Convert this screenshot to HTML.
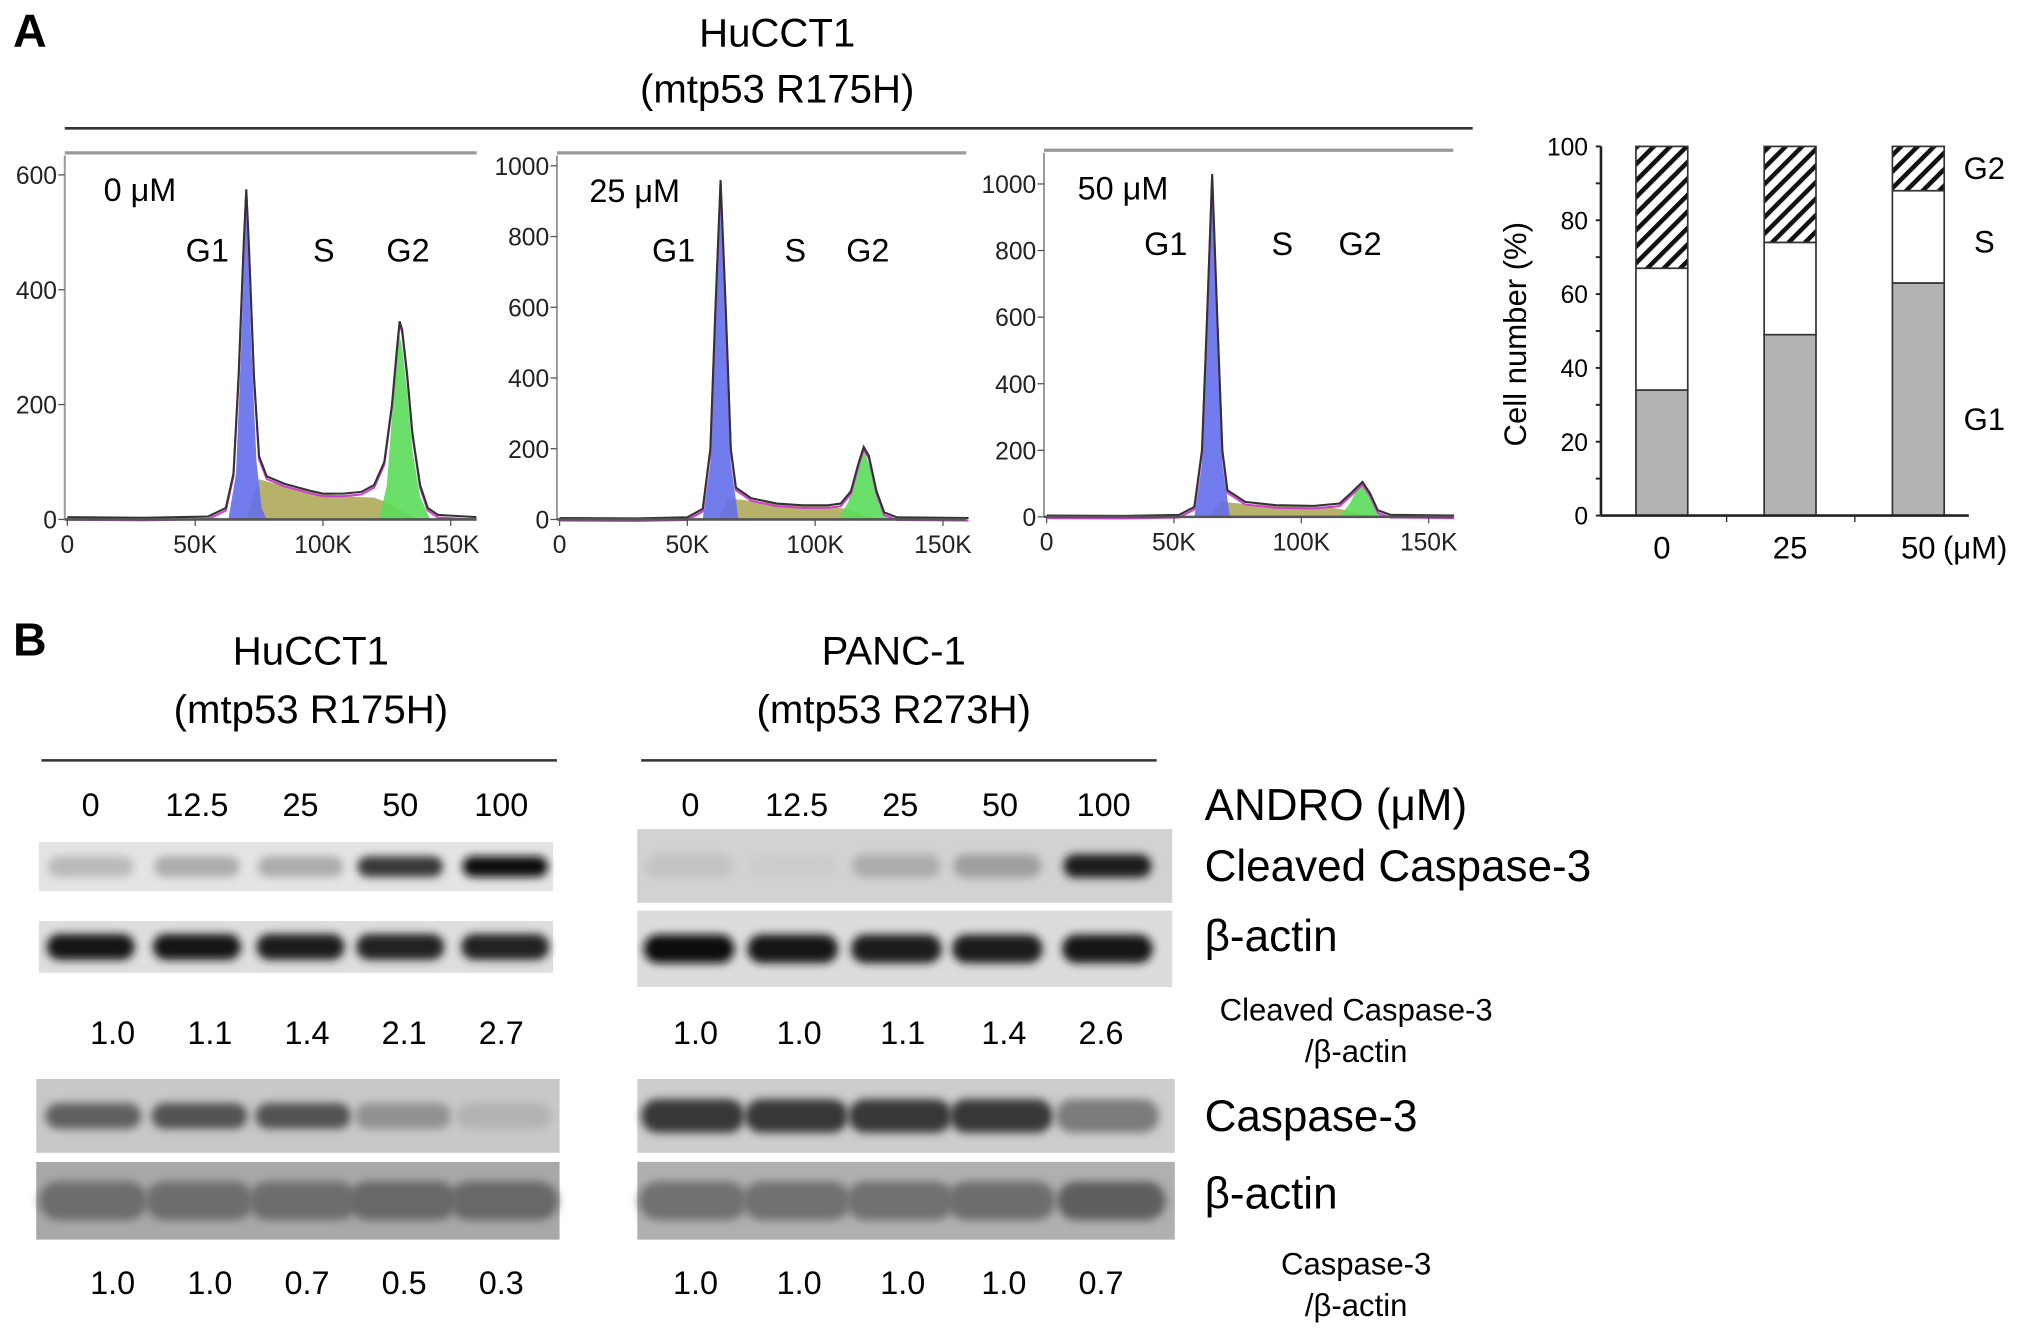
<!DOCTYPE html>
<html><head><meta charset="utf-8"><style>
html,body{margin:0;padding:0;background:#fff}
svg{display:block;font-family:"Liberation Sans",Arial,sans-serif}
</style></head><body>
<svg id="fig" width="2031" height="1335" viewBox="0 0 1568 1030.6" xmlns="http://www.w3.org/2000/svg">
<defs>
<filter id="blur" x="-30%" y="-80%" width="160%" height="260%"><feGaussianBlur stdDeviation="3.2"/></filter>
<pattern id="hatch" patternUnits="userSpaceOnUse" width="9" height="9" patternTransform="rotate(45)">
<rect width="9" height="9" fill="#fff"/><rect width="3.5" height="9" fill="#111"/></pattern>
</defs>
<text x="10" y="36" font-size="36" font-weight="bold">A</text>
<text x="10" y="506" font-size="36" font-weight="bold">B</text>
<text x="600" y="36" font-size="31" text-anchor="middle">HuCCT1</text>
<text x="600" y="79" font-size="31" text-anchor="middle">(mtp53 R175H)</text>
<line x1="50" y1="99" x2="1137" y2="99" stroke="#333" stroke-width="2"/>
<g id="hist"></g>
<g id="bars"></g>
<g id="blots"></g>
</svg>
<script>
const NS="http://www.w3.org/2000/svg";
function mk(tag,attrs,parent,txt){const e=document.createElementNS(NS,tag);for(const k in attrs)e.setAttribute(k,attrs[k]);if(txt!==undefined)e.textContent=txt;parent.appendChild(e);return e;}

// ---------- Histogram data (x in K, counts) ----------
const histLabels=["0 μM","25 μM","50 μM"];
const histYTicks=[[0,200,400,600],[0,200,400,600,800,1000],[0,200,400,600,800,1000]];
const histXTicks=[0,50,100,150];
const total0=[[0,4],[30,3],[55,5],[62,20],[65,80],[67,250],[69,480],[70,575],[71,480],[73,250],[75,110],[78,75],[85,62],[95,50],[100,45],[108,45],[115,48],[120,60],[124,100],[127,200],[129,300],[130,345],[131,330],[133,250],[135,150],[138,60],[141,20],[145,8],[160,4]];
const g1_0=[[63,0],[66,80],[68,300],[70,560],[72,300],[74,100],[76,20],[78,0]];
const s_0=[[70,0],[75,70],[80,64],[90,54],[100,45],[110,40],[120,38],[125,30],[132,12],[138,0]];
const g2_0=[[122,0],[125,60],[127,180],[129,290],[130,320],[131,300],[133,220],[135,120],[138,40],[142,0]];
const total25=[[0,4],[30,3],[50,6],[56,30],[59,200],[61,600],[63,960],[65,600],[67,200],[69,90],[75,60],[85,45],[95,40],[105,40],[110,45],[114,80],[117,160],[119,205],[121,180],[124,80],[127,20],[132,6],[160,4]];
const g1_25=[[56,0],[59,160],[61,560],[63,940],[65,560],[67,160],[70,0]];
const s_25=[[62,0],[66,60],[75,52],[90,42],[105,38],[112,30],[120,10],[126,0]];
const g2_25=[[109,0],[113,50],[116,140],[119,195],[122,140],[125,40],[129,0]];
const total50=[[0,4],[30,3],[52,6],[58,30],[61,200],[63,600],[65,1030],[67,600],[69,200],[71,80],[78,45],[90,35],[105,33],[115,40],[120,75],[124,105],[127,70],[130,20],[135,6],[160,4]];
const g1_50=[[58,0],[61,160],[63,560],[65,1010],[67,560],[69,160],[72,0]];
const s_50=[[64,0],[68,45],[80,38],[95,32],[110,30],[118,20],[125,5],[130,0]];
const g2_50=[[115,0],[119,40],[122,85],[124,98],[126,80],[129,25],[132,0]];
const histTotals=[total0,total25,total50];
const histG1=[g1_0,g1_25,g1_50];
const histS=[s_0,s_25,s_50];
const histG2=[g2_0,g2_25,g2_50];
const histYMax=[600,1000,1000];

const hp=[
 {x0:52,x150:348,y0:401,yTop:135,ax:50,fx1:50,fx2:368,ft:118,lbx:80,lby:155,g1x:160,sx:250,g2x:315,py:202},
 {x0:432,x150:728,y0:401,yTop:128,ax:430,fx1:430,fx2:746,ft:118,lbx:455,lby:156,g1x:520,sx:614,g2x:670,py:202},
 {x0:808,x150:1103,y0:399,yTop:142,ax:806,fx1:806,fx2:1122,ft:116,lbx:832,lby:154,g1x:900,sx:990,g2x:1050,py:197}];
const H=document.getElementById('hist');
hp.forEach((p,i)=>{
 const g=mk('g',{},H);
 
 
 const X=v=>p.x0+(p.x150-p.x0)*v/150;
 const Y=v=>p.y0-(p.y0-p.yTop)*v/histYMax[i];
 const fr=mk('line',{x1:p.fx1,y1:p.ft,x2:p.fx2,y2:p.ft,stroke:'#999','stroke-width':2.5},g);
 
 
 const poly=(pts,fill,name)=>{let d='M'+X(pts[0][0])+','+Y(0);pts.forEach(q=>d+=' L'+X(q[0])+','+Y(q[1]));d+=' L'+X(pts[pts.length-1][0])+','+Y(0)+'Z';
  const e=mk('path',{d:d,fill:fill,stroke:'none'},g);
  
  };
 poly(histS[i],'rgba(170,165,80,0.85)','s-phase-area');
 poly(histG2[i],'rgba(90,220,90,0.9)','g2-area');
 poly(histG1[i],'rgba(100,110,235,0.9)','g1-area');
 let d='';histTotals[i].forEach((q,k)=>d+=(k?' L':'M')+X(q[0])+','+Y(q[1]));
 const fit=mk('path',{d:d,fill:'none',stroke:'#d040d0','stroke-width':1.6,transform:'translate(0,2)'},g);
 
 
 const tl=mk('path',{d:d,fill:'none',stroke:'#333','stroke-width':1.6},g);
 
 
 mk('line',{x1:p.ax,y1:p.ft+2,x2:p.ax,y2:p.y0,stroke:'#999','stroke-width':1.5},g);
 mk('line',{x1:p.ax,y1:p.y0,x2:p.fx2,y2:p.y0,stroke:'#555','stroke-width':2},g);
 histYTicks[i].forEach(t=>{mk('line',{x1:p.ax-5,y1:Y(t),x2:p.ax,y2:Y(t),stroke:'#555'},g);
  const tx=mk('text',{x:p.ax-6,y:Y(t)+7,'font-size':19,'text-anchor':'end',fill:'#222'},g,String(t));
  
  });
 histXTicks.forEach(t=>{mk('line',{x1:X(t),y1:p.y0,x2:X(t),y2:p.y0+5,stroke:'#555'},g);
  const tx=mk('text',{x:X(t),y:p.y0+26,'font-size':19,'text-anchor':'middle',fill:'#222'},g,t?t+'K':'0');
  
  });
 const lb=mk('text',{x:p.lbx,y:p.lby,'font-size':25},g,histLabels[i]);
 
 
 [['G1',p.g1x],['S',p.sx],['G2',p.g2x]].forEach(a=>{const t=mk('text',{x:a[1],y:a[2]===undefined?p.py:p.py,'font-size':25,'text-anchor':'middle'},g,a[0]);
  
  });
});

// ---------- Stacked bar chart ----------
const barCats=["0","25","50"];
const barG1=[34,49,63];
const barS=[33,25,25];
const barG2=[33,26,12];
const barYTicks=[0,20,40,60,80,100];
const B=document.getElementById('bars');
const by0=398,byT=113,bx0=1236,bx1=1520;
const BY=v=>by0-(by0-byT)*v/100;
const BX=i=>1283+i*99;


barCats.forEach((c,i)=>{
 let base=0;
 [[barG1[i],'#b3b3b3','bar-g1'],[barS[i],'#fff','bar-s'],[barG2[i],'url(#hatch)','bar-g2']].forEach(s=>{
  const r=mk('rect',{x:BX(i)-20,y:BY(base+s[0]),width:40,height:BY(base)-BY(base+s[0]),fill:s[1],stroke:'#333','stroke-width':1.3},B);
  
  
  base+=s[0];});
 const t=mk('text',{x:BX(i),y:by0+33,'font-size':24,'text-anchor':'middle'},B,c);
 
 
});
mk('line',{x1:bx0,y1:byT,x2:bx0,y2:by0,stroke:'#222','stroke-width':2},B);
mk('line',{x1:bx0,y1:by0,x2:bx1,y2:by0,stroke:'#222','stroke-width':2},B);
for(let v=0;v<=100;v+=10)mk('line',{x1:bx0-4,y1:BY(v),x2:bx0,y2:BY(v),stroke:'#222','stroke-width':1.5},B);
barYTicks.forEach(v=>{const t=mk('text',{x:bx0-10,y:BY(v)+7,'font-size':19,'text-anchor':'end'},B,String(v));
 
 });
[1333,1432].forEach(x=>mk('line',{x1:x,y1:by0,x2:x,y2:by0+5,stroke:'#222'},B));
let yt=mk('text',{x:0,y:0,'font-size':24,'text-anchor':'middle',transform:'translate(1178,258) rotate(-90)'},B,'Cell number (%)');


[['G2',1532,138],['S',1532,195],['G1',1532,332]].forEach(a=>{const t=mk('text',{x:a[1],y:a[2],'font-size':24,'text-anchor':'middle'},B,a[0]);
 
 });
let um=mk('text',{x:1500,y:431,'font-size':24},B,'(μM)');



// ---------- Western blots ----------
const lanes=["0","12.5","25","50","100"];
const leftCleaved=[0.22,0.28,0.28,0.8,0.98];
const rightCleaved=[0.18,0.14,0.28,0.34,0.92];
const leftActin1=[0.95,0.95,0.92,0.9,0.9];
const rightActin1=[0.97,0.95,0.93,0.93,0.95];
const leftCasp=[0.62,0.68,0.68,0.4,0.25];
const rightCasp=[0.8,0.8,0.8,0.8,0.5];
const leftActin2=[0.72,0.72,0.72,0.75,0.75];
const rightActin2=[0.7,0.7,0.7,0.72,0.8];
const leftRatio1=["1.0","1.1","1.4","2.1","2.7"];
const rightRatio1=["1.0","1.0","1.1","1.4","2.6"];
const leftRatio2=["1.0","1.0","0.7","0.5","0.3"];
const rightRatio2=["1.0","1.0","1.0","1.0","0.7"];
const W=document.getElementById('blots');
function T(x,y,s,txt,name,anchor){const t=mk('text',{x:x,y:y,'font-size':s,'text-anchor':anchor||'middle'},W,txt);
 
 return t;}
T(240,513,31,'HuCCT1','blot-title-hucct1');T(240,558,31,'(mtp53 R175H)','blot-subtitle-hucct1');
T(690,513,31,'PANC-1','blot-title-panc1');T(690,558,31,'(mtp53 R273H)','blot-subtitle-panc1');
mk('line',{x1:32,y1:587,x2:430,y2:587,stroke:'#333','stroke-width':2},W);
mk('line',{x1:495,y1:587,x2:893,y2:587,stroke:'#333','stroke-width':2},W);
const Lx=[70,152,232,309,387],Rx=[533,615,695,772,852];
lanes.forEach((l,i)=>{T(Lx[i],630,25,l,'lane-label');T(Rx[i],630,25,l,'lane-label');});
function blot(x,y,w,h,bg,cx,vals,bw,bh,name,lo){
 const g=mk('g',{},W);
 
 
 mk('rect',{x:x,y:y,width:w,height:h,fill:bg},g);
 vals.forEach((v,i)=>{const c=Math.round(235-(235-(lo||10))*v);
  const e=mk('rect',{x:cx[i]-bw/2,y:y+h/2-bh/2,width:bw,height:bh,rx:bh/2,fill:`rgb(${c},${c},${c})`,filter:'url(#blur)'},g);
  
  });
}
const Lb=[70,152,232,309,390],Rb=[532,612,692,770,855];
blot(30,650,397,38,'#e4e4e4',Lb,leftCleaved,66,16,'blot-cleaved-caspase3-hucct1');
blot(492,640,413,57,'#d2d2d2',Rb,rightCleaved,68,18,'blot-cleaved-caspase3-panc1');
blot(30,711,397,40,'#dedede',Lb,leftActin1,68,20,'blot-actin1-hucct1');
blot(492,703,413,59,'#dcdcdc',Rb,rightActin1,70,22,'blot-actin1-panc1');
blot(28,833,404,57,'#c8c8c8',[72,154,234,311,389],leftCasp,74,20,'blot-caspase3-hucct1');
blot(492,833,415,57,'#cdcdcd',[535,615,695,773,855],rightCasp,80,26,'blot-caspase3-panc1');
blot(28,897,404,60,'#a8a8a8',[72,154,234,311,389],leftActin2,84,30,'blot-actin2-hucct1',60);
blot(492,897,415,60,'#b0b0b0',[535,615,695,773,858],rightActin2,84,30,'blot-actin2-panc1',60);
const Ln=[87,162,237,312,387],Rn=[537,617,697,775,850];
lanes.forEach((l,i)=>{T(Ln[i],806,25,leftRatio1[i],'ratio-cleaved');T(Rn[i],806,25,rightRatio1[i],'ratio-cleaved');
 T(Ln[i],999,25,leftRatio2[i],'ratio-caspase3');T(Rn[i],999,25,rightRatio2[i],'ratio-caspase3');});
T(930,633,34,'ANDRO (μM)','andro-label','start');
T(930,680,34,'Cleaved Caspase-3','label-cleaved-caspase3','start');
T(930,734,34,'β-actin','label-actin1','start');
T(1047,788,24,'Cleaved Caspase-3','ratio-label-cleaved');
T(1047,820,24,'/β-actin','ratio-label-cleaved-actin');
T(930,873,34,'Caspase-3','label-caspase3','start');
T(930,933,34,'β-actin','label-actin2','start');
T(1047,984,24,'Caspase-3','ratio-label-caspase3');
T(1047,1016,24,'/β-actin','ratio-label-caspase3-actin');
</script>
</body></html>
